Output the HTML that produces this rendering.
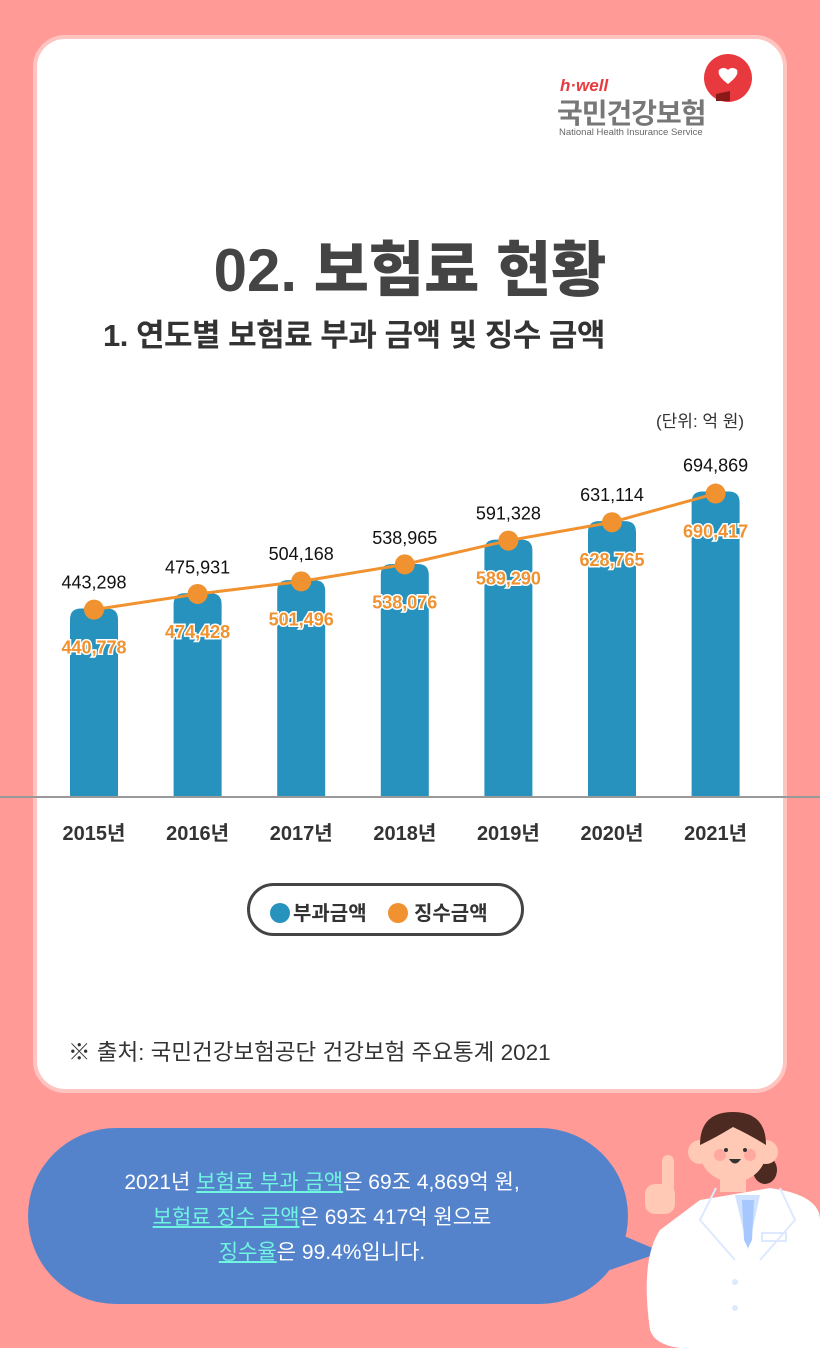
<!DOCTYPE html>
<html><head><meta charset="utf-8">
<style>
body{margin:0;width:820px;height:1348px;background:#FF9A96;position:relative;overflow:hidden;font-family:"Liberation Sans","Noto Sans CJK KR",sans-serif;}
.card{position:absolute;left:33px;top:35px;width:746px;height:1050px;background:#fff;border:4px solid #FFC3C0;border-radius:32px;}
.t{position:absolute;white-space:nowrap;}
</style></head><body>
<div class="card"></div>
<div class="t" style="left:560px;top:76px;color:#e8393f;font-weight:bold;font-style:italic;font-size:17px;">h·well</div>
<div class="t" style="left:557px;top:92px;color:#777;font-size:28px;font-weight:bold;letter-spacing:-1px;">국민건강보험</div>
<div class="t" style="left:559px;top:127px;color:#666;font-size:9.5px;">National Health Insurance Service</div>
<svg style="position:absolute;left:700px;top:54px" width="56" height="54">
<circle cx="28" cy="24" r="24" fill="#e8393f"/><path d="M19 16 a6 6 0 0 1 9 0 a6 6 0 0 1 9 0 c2 5 -4 10 -9 14 c-5 -4 -11 -9 -9 -14z" fill="#fff"/>
<path d="M16 40 l14 -3 l0 10 l-14 0z" fill="#8a1a1a"/></svg>
<div class="t" style="left:0;width:820px;text-align:center;top:222px;font-size:60px;font-weight:900;color:#444;letter-spacing:0px;">02. 보험료 현황</div>
<div class="t" style="left:103px;top:310px;font-size:31px;font-weight:bold;color:#333;letter-spacing:-0.5px;">1. 연도별 보험료 부과 금액 및 징수 금액</div>
<div class="t" style="left:656px;top:407px;font-size:17px;color:#333;">(단위: 억 원)</div>
<svg id="chart" style="position:absolute;left:0;top:0" width="820" height="960"></svg>
<div class="t" style="left:247px;top:883px;width:277px;height:53px;border:3px solid #444;border-radius:28px;box-sizing:border-box;"></div>
<div class="t" style="left:270px;top:897px;font-size:20px;font-weight:bold;color:#333;"><span style="display:inline-block;width:20px;height:20px;border-radius:50%;background:#2692BD;vertical-align:-3px;margin-right:3px"></span>부과금액</div>
<div class="t" style="left:388px;top:897px;font-size:20px;font-weight:bold;color:#333;"><span style="display:inline-block;width:20px;height:20px;border-radius:50%;background:#F0922F;vertical-align:-3px;margin-right:6px"></span>징수금액</div>
<div class="t" style="left:68px;top:1035px;font-size:22.5px;color:#333;">※ 출처: 국민건강보험공단 건강보험 주요통계 2021</div>
<svg style="position:absolute;left:0;top:1100px" width="820" height="248">
<rect x="28" y="28" width="600" height="176" rx="88" fill="#5583CB"/>
<path d="M610 130 L662 152 L610 170Z" fill="#5583CB"/>
<path d="M650 230 Q640 160 660 130 L700 100 L770 88 Q820 95 820 120 L820 248 L680 248 Q655 245 650 230Z" fill="#fff"/>
<path d="M735 95 L760 95 L748 150Z" fill="#cfe2ff"/><path d="M742 100 L754 100 L752 140 L748 148 L744 140Z" fill="#a7c7ff"/>
<path d="M716 88 L700 120 L735 160 M780 88 L795 120 L760 160" stroke="#dde9ff" stroke-width="2" fill="none"/>
<rect x="762" y="133" width="24" height="8" fill="none" stroke="#dde9ff" stroke-width="2"/>
<circle cx="735" cy="182" r="3" fill="#dde9ff"/><circle cx="735" cy="208" r="3" fill="#dde9ff"/>
<rect x="662" y="55" width="12" height="50" rx="6" fill="#FFC9B5"/><rect x="645" y="84" width="30" height="30" rx="10" fill="#FFC9B5"/>
<ellipse cx="765" cy="70" rx="12" ry="14" fill="#4d2a21"/>
<circle cx="700" cy="52" r="12" fill="#FFC9B5"/><circle cx="766" cy="52" r="12" fill="#FFC9B5"/>
<rect x="720" y="70" width="26" height="22" fill="#FFC9B5"/>
<ellipse cx="733" cy="52" rx="33" ry="30" fill="#FFC9B5"/>
<path d="M700 45 Q700 12 733 12 Q766 12 766 45 Q750 35 733 27 Q715 38 700 45Z" fill="#4d2a21"/>
<circle cx="720" cy="55" r="6" fill="#ffa9a0"/><circle cx="750" cy="55" r="6" fill="#ffa9a0"/>
<circle cx="726" cy="50" r="2" fill="#333"/><circle cx="745" cy="50" r="2" fill="#333"/>
<path d="M729 59 Q735 68 741 59Z" fill="#333"/>
</svg>
<div class="t" style="left:22px;width:600px;top:1165px;text-align:center;color:#fff;font-size:21px;line-height:35px;">2021년 <u style="color:#6ff5e0">보험료 부과 금액</u>은 69조 4,869억 원,<br><u style="color:#6ff5e0">보험료 징수 금액</u>은 69조 417억 원으로<br><u style="color:#6ff5e0">징수율</u>은 99.4%입니다.</div>
<script>
const years=["2015년","2016년","2017년","2018년","2019년","2020년","2021년"];
const levied=[443298,475931,504168,538965,591328,631114,694869];
const collected=[440778,474428,501496,538076,589290,628765,690417];
const NS="http://www.w3.org/2000/svg";
const svg=document.getElementById('chart');
const base=796;
function y(v){return base-(v-40000)*0.000465;}
function x(i){return 94+i*103.6;}
function el(t,a,p){const e=document.createElementNS(NS,t);for(const k in a)e.setAttribute(k,a[k]);(p||svg).appendChild(e);return e;}
const fmt=v=>v.toLocaleString('en-US');
const bw=48,r=11;
levied.forEach((v,i)=>{
 const x0=x(i)-bw/2,t=y(v);
 const b=el('path',{d:`M${x0} ${base} L${x0} ${t+r} Q${x0} ${t} ${x0+r} ${t} L${x0+bw-r} ${t} Q${x0+bw} ${t} ${x0+bw} ${t+r} L${x0+bw} ${base}Z`,fill:'#2692BD'});
 
 
 const l=el('text',{x:x(i),y:t-20,'text-anchor':'middle','font-size':18,fill:'#111','font-family':'Liberation Sans, sans-serif'});
 l.textContent=fmt(v);
 
 
 const yl=el('text',{x:x(i),y:840,'text-anchor':'middle','font-size':20,'font-weight':'bold',fill:'#333'});
 yl.textContent=years[i];
 
 
});
const ax=el('line',{x1:0,x2:820,y1:base+1,y2:base+1,stroke:'#999','stroke-width':2});


const ln=el('polyline',{points:collected.map((v,i)=>x(i)+','+y(v)).join(' '),fill:'none',stroke:'#F0922F','stroke-width':3});


collected.forEach((v,i)=>{
 const c=el('circle',{cx:x(i),cy:y(v),r:10,fill:'#F0922F'});
 
 
 const l=el('text',{x:x(i),y:y(v)+44,'text-anchor':'middle','font-size':18,'font-weight':'bold',fill:'#F0922F',stroke:'#fff','stroke-width':3,'paint-order':'stroke'});
 l.textContent=fmt(v);
 
 
});
</script>
</body></html>
